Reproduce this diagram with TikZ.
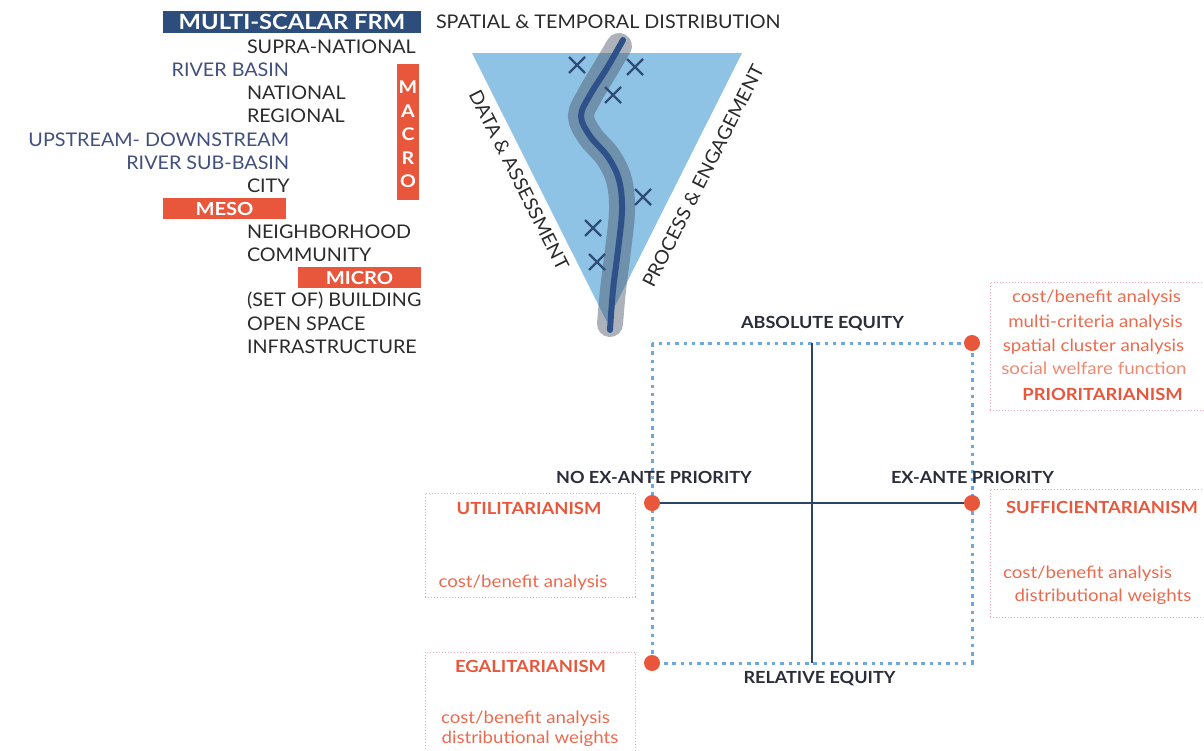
\documentclass[tikz,border=0pt]{standalone}
\usepackage{fontspec}
\setmainfont{Lato}
% widened cuts of the same family for the different label kinds
\newfontfamily\itemfont{Lato}[FakeStretch=1.05]
\newfontfamily\headfont{Lato}[FakeStretch=1.13]
\newfontfamily\tagfont{Lato}[FakeStretch=1.12]
\newfontfamily\axisfont{Lato}[FakeStretch=1.08]
\newfontfamily\schoolfont{Lato}[FakeStretch=1.1]
\newfontfamily\methodfont{Lato}[FakeStretch=1.1]
\definecolor{inkdark}{HTML}{2B2B2B}
\definecolor{inkblue}{HTML}{41507D}
\definecolor{navy}{HTML}{2D4D7C}
\definecolor{orng}{HTML}{E8573C}
\definecolor{salmon}{HTML}{EC6A4E}
\definecolor{salmonlt}{HTML}{F08A72}
\definecolor{pinkline}{HTML}{F3A9BB}
\definecolor{trifill}{HTML}{8FC3E6}
\definecolor{riverblue}{HTML}{2F5189}
\definecolor{riverbank}{HTML}{4A5566}
\definecolor{crossblue}{HTML}{2F4D78}
\definecolor{axisblue}{HTML}{2C4466}
\definecolor{dotblue}{HTML}{6DA8DE}
\definecolor{lblink}{HTML}{2A2D3A}
\begin{document}
\begin{tikzpicture}[x=1pt,y=-1pt,
  every node/.style={inner sep=0pt,outer sep=0pt},
  item/.style={anchor=base west,text=inkdark,font=\itemfont\fontsize{18.8}{20}\selectfont},
  itemr/.style={anchor=base east,text=inkblue,font=\itemfont\fontsize{18.8}{20}\selectfont},
  sidelbl/.style={text=inkdark,font=\itemfont\fontsize{18.8}{20}\selectfont},
  banner/.style={fill=#1,text=white,font=\tagfont\fontsize{18}{20}\selectfont\bfseries},
  qlbl/.style={anchor=base,text=lblink,font=\axisfont\fontsize{16.7}{18}\selectfont\bfseries},
  schoolname/.style={anchor=base,text=orng,font=\schoolfont\fontsize{16.7}{18}\selectfont\bfseries},
  method/.style={anchor=base,text=salmon,font=\methodfont\fontsize{17}{18}\selectfont},
  pinkbox/.style={draw=pinkline,line width=0.9pt,dash pattern=on 1pt off 2pt},
  qdot/.style={circle,fill=orng,minimum size=16pt},
  axis/.style={draw=axisblue,line width=2.5pt},
  dotframe/.style={draw=dotblue,line width=3pt,dash pattern=on 3.5pt off 4.8pt},
  xmark/.style={draw=crossblue,line width=2.3pt},
]
\useasboundingbox (0,0) rectangle (1204,750);

% ---------- scale list ----------
\node[banner=navy,minimum width=258pt,minimum height=22pt,font=\headfont\fontsize{21}{22}\selectfont\bfseries] (frm) at (292,22) {MULTI-SCALAR FRM};
\node[banner=orng,minimum width=123pt,minimum height=21pt] (meso) at (224.5,208.5) {MESO};
\node[banner=orng,minimum width=123pt,minimum height=21pt] (micro) at (359.5,277.5) {MICRO};
\node[fill=orng,minimum width=22pt,minimum height=136pt] (macro) at (408,132) {};
\node[text=white,align=center,font=\tagfont\fontsize{17.5}{23.4}\selectfont\bfseries] (macrotxt) at (408,134.5) {M\\A\\C\\R\\O};

\node[item]  (supra)    at (247,53)  {SUPRA-NATIONAL};
\node[itemr] (rbasin)   at (289,76)  {RIVER BASIN};
\node[item]  (national) at (247,99)  {NATIONAL};
\node[item]  (regional) at (247,122) {REGIONAL};
\node[itemr] (updown)   at (289,146) {UPSTREAM- DOWNSTREAM};
\node[itemr] (subbasin) at (289,169) {RIVER SUB-BASIN};
\node[item]  (city)     at (247,192) {CITY};
\node[item]  (neigh)    at (247,238) {NEIGHBORHOOD};
\node[item]  (comm)     at (247,261) {COMMUNITY};
\node[item]  (bldg)     at (247,306) {(SET OF) BUILDING};
\node[item]  (open)     at (247,330) {OPEN SPACE};
\node[item]  (infra)    at (247,353) {INFRASTRUCTURE};

% ---------- triangle with river ----------
\node[item] (spatial) at (436,28) {SPATIAL \& TEMPORAL DISTRIBUTION};
\fill[trifill] (472,53) -- (742,53) -- (607,322) -- cycle;
% translucent river bank, then the river itself
\draw[line width=26pt,line cap=round,draw=riverbank,opacity=0.45]
  plot[smooth,tension=0.6] coordinates {(619,46) (606,68) (590,95) (581,116) (590,136) (608,157) (619,180) (622,210) (618,250) (613,290) (610,324)};
\draw[line width=6pt,line cap=round,draw=riverblue]
  plot[smooth,tension=0.6] coordinates {(623,40) (607,68) (590,95) (581,116) (590,136) (608,157) (619,180) (622,210) (618,250) (613,290) (610,330)};
\foreach \cx/\cy in {577/65,635/67,613/95,643/197,593/228,597/262}{
  \draw[xmark] (\cx-8,\cy-8) -- (\cx+8,\cy+8);
  \draw[xmark] (\cx-8,\cy+8) -- (\cx+8,\cy-8);
}
\node[sidelbl,rotate=-63.2] (data) at (519,180) {DATA \& ASSESSMENT};
\node[sidelbl,rotate=63.2] (proc) at (703,176) {PROCESS \& ENGAGEMENT};

% ---------- equity quadrant ----------
\coordinate (qtl) at (652,343);
\coordinate (qtr) at (972,343);
\coordinate (qbl) at (652,663);
\coordinate (qbr) at (972,663);
\coordinate (qt) at (812,343);
\coordinate (qb) at (812,663);
\coordinate (ql) at (652,503);
\coordinate (qr) at (972,503);
\draw[dotframe] (qtl) rectangle (qbr);
\draw[axis] (qt) -- (qb);
\draw[axis] (ql) -- (qr);
\node[qdot] (dotTR) at (qtr) {};
\node[qdot] (dotL)  at (ql)  {};
\node[qdot] (dotR)  at (qr)  {};
\node[qdot] (dotBL) at (qbl) {};

\node[qlbl] (absq)  at (822.5,328) {ABSOLUTE EQUITY};
\node[qlbl] (relq)  at (819.5,683) {RELATIVE EQUITY};
\node[qlbl] (noex)  at (654,483)   {NO EX-ANTE PRIORITY};
\node[qlbl] (exa)   at (972.5,483) {EX-ANTE PRIORITY};

% ---------- approaches ----------
\node[pinkbox,minimum width=222pt,minimum height=128pt] (boxP) at (1101,346) {};
\node[method] (p1) at (1096.5,302) {cost/benefit analysis};
\node[method] (p2) at (1095.5,327) {multi-criteria analysis};
\node[method] (p3) at (1093.5,351) {spatial cluster analysis};
\node[method,text=salmonlt] (p4) at (1094,374) {social welfare function};
\node[schoolname] (prio) at (1102.5,400) {PRIORITARIANISM};

\node[pinkbox,minimum width=222pt,minimum height=128pt] (boxS) at (1101,553) {};
\node[schoolname] (suff) at (1102,513) {SUFFICIENTARIANISM};
\node[method] (s1) at (1087.5,578) {cost/benefit analysis};
\node[method] (s2) at (1103,601) {distributional weights};

\node[pinkbox,minimum width=210pt,minimum height=104pt] (boxU) at (530,545) {};
\node[schoolname] (util) at (529,514) {UTILITARIANISM};
\node[method] (u1) at (523,587) {cost/benefit analysis};

\node[pinkbox,minimum width=210pt,minimum height=108pt] (boxE) at (530,706) {};
\node[schoolname] (egal) at (530.5,672) {EGALITARIANISM};
\node[method] (e1) at (525.5,723) {cost/benefit analysis};
\node[method] (e2) at (530,743) {distributional weights};
\end{tikzpicture}
\end{document}
